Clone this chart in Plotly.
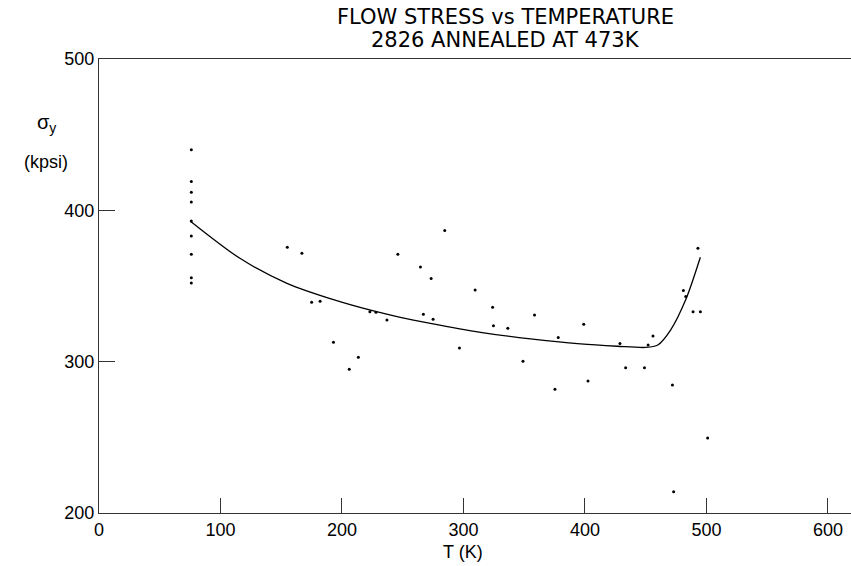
import plotly.graph_objects as go

# Measured data points (T in K, flow stress in kpsi)
T_pts = [76, 76, 76, 76, 76, 76, 76, 76, 76,
         155, 167, 175, 182, 193, 206, 213.5, 223, 228, 237,
         246, 264.6, 267, 273.4, 275, 284.6, 296.7, 309.6, 324, 324.7,
         336.5, 349, 358.5, 375.3, 378, 399, 402.5, 428.8, 433.5, 449,
         452, 456, 472, 473, 481, 483, 489, 495, 493, 501]
S_pts = [440, 419, 412, 405.5, 393, 383, 371, 355.5, 352,
         375.6, 371.6, 339.2, 340, 312.8, 295, 303, 333, 332.6, 327.5,
         371, 362.6, 331.3, 355, 328, 386.6, 309, 347.4, 336, 323.8,
         322, 300.2, 330.8, 281.7, 316, 324.7, 287.2, 312, 296, 296,
         311, 317, 284.6, 214, 347, 343, 333, 333, 375, 249.5]

# Fitted curve
T_fit = [75, 116, 154.7, 193, 226, 248, 272.8, 314, 355.2, 396.4, 426.7, 450, 460, 470.6, 483, 495]
S_fit = [393, 368.3, 351.8, 341, 333.5, 329.3, 325.3, 319.4, 315, 311.7, 310.2, 309.4, 311, 321, 341, 369]

x_ticks = [0, 100, 200, 300, 400, 500, 600]
y_ticks = [200, 300, 400, 500]

FONT = "Liberation Sans"
TFONT = "DejaVu Sans"

W, H = 851, 566
pl, pr, pt, pb = 99, 0, 59, 53
pw, ph = W - pl - pr, H - pt - pb

fig = go.Figure()
fig.add_trace(go.Scatter(x=T_fit, y=S_fit, mode="lines",
                         line=dict(color="black", width=1.3, shape="spline", smoothing=0.8),
                         showlegend=False, hoverinfo="skip"))
fig.add_trace(go.Scatter(x=T_pts, y=S_pts, mode="markers", marker=dict(color="black", size=3),
                         showlegend=False))

fig.update_layout(
    width=W, height=H,
    margin=dict(l=pl, r=pr, t=pt, b=pb),
    paper_bgcolor="white", plot_bgcolor="white",
    xaxis=dict(range=[0, 619], tickvals=x_ticks, ticks="inside", ticklen=15, tickcolor="#333",
               showline=True, linecolor="#333", linewidth=1, mirror=True, showgrid=False, zeroline=False,
               tickfont=dict(family=FONT, size=18, color="black")),
    yaxis=dict(range=[200, 500], tickvals=y_ticks, ticks="inside", ticklen=16, tickcolor="#333",
               showline=True, linecolor="#333", linewidth=1, showgrid=False, zeroline=False,
               tickfont=dict(family=FONT, size=18, color="black")),
)


def px(x):
    return (x - pl) / pw


def py(y):
    return (H - pb - y) / ph


def note(text, x, y, size, family=FONT):
    fig.add_annotation(text=text, x=px(x), y=py(y), xref="paper", yref="paper", showarrow=False,
                       xanchor="center", yanchor="middle", align="center",
                       font=dict(family=family, size=size, color="black"))


note("FLOW STRESS vs TEMPERATURE", 505, 17, 21, TFONT)
note("2826 ANNEALED AT 473K", 505, 40, 21, TFONT)
note("σ<sub>y</sub>", 46, 123, 20)
note("(kpsi)", 46, 162, 18)
note("T (K)", 463, 552, 18)

fig.write_html("out.html")
